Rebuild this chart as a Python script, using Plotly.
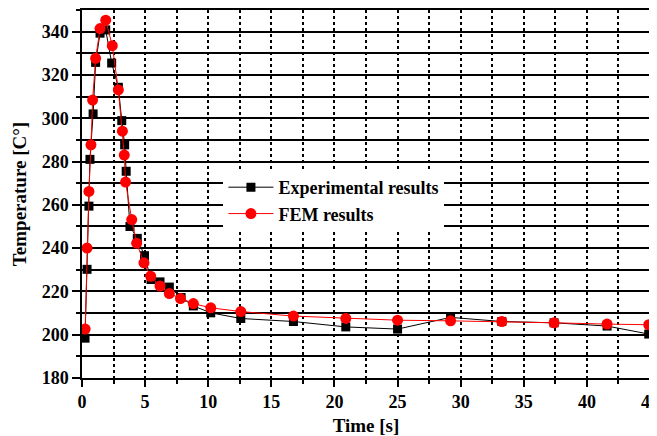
import plotly.graph_objects as go

exp_t = [0.24, 0.40, 0.55, 0.63, 0.88, 1.08, 1.43, 1.88, 2.35, 2.88, 3.15, 3.38, 3.50, 3.80, 4.38,
         4.95, 5.47, 6.18, 6.92, 7.85, 8.82, 10.2, 12.58, 16.75, 20.9, 25.0, 29.2, 33.26, 37.4, 41.6, 44.9]
exp_T = [198.4, 230.2, 259.4, 281.0, 302.0, 325.8, 339.3, 340.8, 325.5, 314.3, 298.9, 287.7, 275.5, 250.0, 244.5,
         236.5, 225.5, 224.4, 222.0, 217.2, 213.3, 210.1, 207.5, 206.1, 203.6, 202.6, 208.0, 206.1, 205.5, 204.0, 200.3]

fem_t = [0.25, 0.40, 0.55, 0.71, 0.84, 1.08, 1.43, 1.88, 2.40, 2.88, 3.20, 3.35, 3.45, 3.94, 4.33,
         4.91, 5.44, 6.18, 6.92, 7.80, 8.82, 10.2, 12.58, 16.75, 20.9, 25.0, 29.2, 33.26, 37.4, 41.6, 44.9]
fem_T = [202.6, 240.0, 266.2, 287.7, 308.4, 327.7, 341.4, 345.3, 333.5, 313.1, 294.0, 283.0, 270.5, 253.2, 242.3,
         233.2, 227.0, 222.5, 219.0, 216.7, 214.4, 212.4, 210.7, 208.6, 207.5, 206.7, 206.4, 206.1, 205.5, 204.9, 204.6]

font_family = "Liberation Serif, Times New Roman, serif"

fig = go.Figure()
fig.add_trace(go.Scatter(
    x=exp_t, y=exp_T, mode="lines+markers", name="<b>Experimental results</b>",
    line=dict(color="black", width=1),
    marker=dict(symbol="square", size=9, color="black"),
))
fig.add_trace(go.Scatter(
    x=fem_t, y=fem_T, mode="lines+markers", name="<b>FEM results</b>",
    line=dict(color="red", width=1),
    marker=dict(symbol="circle", size=11, color="red"),
))

fig.update_layout(
    width=649, height=428,
    margin=dict(l=74, r=7, t=2, b=58, autoexpand=False),
    paper_bgcolor="white", plot_bgcolor="white",
    font=dict(family=font_family, size=18, color="black"),
    showlegend=True,
    legend=dict(x=0.249, y=0.568, xanchor="left", yanchor="top",
                bgcolor="white", borderwidth=0,
                font=dict(family=font_family, size=18, color="black"),
                tracegroupgap=0, itemwidth=45),
)

fig.update_xaxes(
    range=[0, 45], dtick=5, tick0=0,
    showline=True, linecolor="black", linewidth=1.5, mirror=True,
    ticks="outside", ticklen=7, tickwidth=1.5, tickcolor="black",
    tickfont=dict(family=font_family, size=18, color="black"),
    ticklabeloverflow="allow",
    showgrid=True, gridcolor="black", gridwidth=1.5, griddash="dot",
    minor=dict(dtick=2.5, showgrid=True, gridcolor="black", gridwidth=1.5, griddash="dot",
               ticks="outside", ticklen=4, tickcolor="black"),
    zeroline=False,
    title=dict(text="<b>Time [s]</b>", font=dict(family=font_family, size=19), standoff=12),
)
fig.update_yaxes(
    range=[180, 350], dtick=20, tick0=180,
    showline=True, linecolor="black", linewidth=1.5, mirror=True,
    ticks="outside", ticklen=8, tickwidth=1.5, tickcolor="black",
    tickfont=dict(family=font_family, size=18, color="black"),
    showgrid=True, gridcolor="black", gridwidth=1.5,
    minor=dict(dtick=10, showgrid=True, gridcolor="black", gridwidth=1.5,
               ticks="outside", ticklen=4, tickcolor="black"),
    zeroline=False,
    title=dict(text="<b>Temperature [C°]</b>", font=dict(family=font_family, size=19), standoff=10),
)
fig.update_xaxes(tickprefix="<b>", ticksuffix="</b>")
fig.update_yaxes(tickprefix="<b>", ticksuffix="</b>")

fig.write_html("out.html")
